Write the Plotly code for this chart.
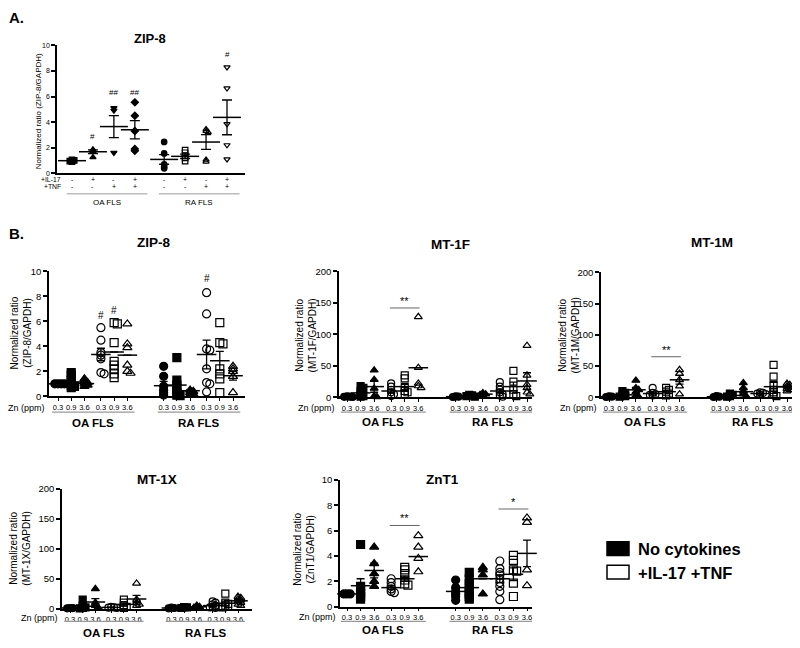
import plotly.graph_objects as go

W, H = 800, 648          # reference picture size
PAD = 8                  # browser body margin
FW, FH = W - PAD, H - PAD  # figure size so that it fits the window
FONT = "Liberation Sans, Arial, Helvetica, sans-serif"

# ======================= DATA =======================
# ---- Panel A : ZIP-8 (IL-17 / TNF stimulation) ----
a_il17 = ["-", "+", "-", "+", "-", "+", "-", "+"]
a_tnf = ["-", "-", "+", "+", "-", "-", "+", "+"]
a_cells = ["OA FLS", "RA FLS"]
a_values = [
    [1.05, 1.0, 0.95, 0.9],
    [1.85, 1.7, 1.25],
    [5.1, 4.9, 1.6],
    [5.55, 4.5, 3.3, 1.9, 1.75],
    [2.45, 1.55, 0.7, 0.5, 0.38],
    [1.8, 1.6, 1.35, 1.2, 0.95],
    [3.45, 3.3, 3.2, 1.05, 0.9],
    [8.3, 6.65, 3.85, 2.2, 1.1],
]
a_mean = [0.98, 1.68, 3.65, 3.4, 1.08, 1.32, 2.44, 4.37]
a_sem = [0.05, 0.15, 0.86, 0.72, 0.38, 0.17, 0.58, 1.36]
a_sig = ["", "#", "##", "##", "", "", "", "#"]
a_sig_y = [0, 2.9, 6.3, 6.3, 0, 0, 0, 9.3]

# ---- Panel B : Zn dose (0.3 / 0.9 / 3.6 ppm) ----
zn_levels = ["0.3", "0.9", "3.6"]
b_cells = ["OA FLS", "RA FLS"]
legend_labels = ["No cytokines", "+IL-17 +TNF"]

# group order: OA none(0.3,0.9,3.6), OA cyt(0.3,0.9,3.6), RA none(...), RA cyt(...)
zip8_values = [
    [1.0, 1.0, 1.0, 1.0],
    [1.9, 1.7, 1.3, 1.1, 0.9, 0.8, 0.7],
    [1.4, 1.2, 1.1, 1.0, 0.9, 0.8],
    [5.5, 4.5, 3.5, 3.3, 3.0, 1.9, 1.8],
    [5.9, 5.8, 4.3, 2.8, 2.5, 2.2, 1.8, 1.5],
    [5.8, 4.2, 3.9, 2.5, 2.0, 1.85],
    [2.4, 1.6, 0.8, 0.5, 0.3, 0.1],
    [3.1, 1.3, 0.9, 0.6, 0.3, 0.1, 0.05],
    [0.5, 0.4, 0.3, 0.2, 0.1],
    [8.3, 6.6, 3.8, 3.7, 2.2, 1.1, 1.0, 0.35],
    [5.9, 4.3, 4.2, 2.2, 1.8, 1.4, 0.3],
    [2.4, 2.2, 2.0, 1.6, 0.3],
]
zip8_mean = [1.0, 1.15, 1.02, 3.35, 3.55, 3.3, 0.85, 0.9, 0.45, 3.35, 2.85, 1.65]
zip8_sem = [0.03, 0.17, 0.1, 0.5, 0.0, 0.0, 0.35, 0.4, 0.06, 1.15, 0.75, 0.35]

mt1f_values = [
    [1.5, 1.0, 0.8, 0.5],
    [18, 15, 10, 5, 2, 1],
    [43, 28, 14, 2, 0.5],
    [22, 17, 12, 8, 5, 2],
    [35, 30, 15, 10, 8, 5],
    [128, 47, 22, 18, 15],
    [1.5, 1.0, 0.5],
    [4, 3, 2, 1],
    [7, 5, 4, 3],
    [24, 17, 12, 8, 5, 3, 1],
    [42, 25, 12, 5, 2],
    [82, 35, 20, 15, 8, 5],
]
mt1f_mean = [1.0, 7, 17, 10, 17, 47, 1.0, 2.5, 5, 10, 17, 26]
mt1f_sem = [0.2, 3, 9, 3, 5, 0, 0.3, 0.7, 1, 3, 7, 13]

mt1m_values = [
    [1.5, 1.0, 0.5],
    [10, 7, 4, 2, 1],
    [27, 15, 12, 8, 3, 1],
    [15, 7, 5, 4, 3],
    [15, 12, 9, 6, 3],
    [44, 38, 28, 18, 5],
    [2, 1, 0.5],
    [6, 4, 2, 1],
    [23, 15, 10, 5, 2],
    [8, 7, 6, 5, 4],
    [52, 33, 20, 12, 8, 4, 2],
    [22, 20, 18, 16, 14, 12, 10],
]
mt1m_mean = [1.0, 4, 12, 6, 9, 28, 1.0, 3, 9, 6, 17, 17]
mt1m_sem = [0.3, 2, 4, 2, 2, 7, 0.3, 1, 4, 0.7, 7, 2]

mt1x_values = [
    [1.0, 0.8, 0.5],
    [15, 5, 2, 1, 0.5],
    [33, 10, 5, 2],
    [3, 2, 1.5, 1],
    [15, 10, 6, 3, 1],
    [42, 15, 10, 7, 5],
    [1.5, 1.0, 0.5],
    [2.5, 2, 1],
    [5, 3, 2],
    [12, 10, 7, 5, 3, 2, 1],
    [25, 10, 8, 5, 3, 2],
    [20, 18, 16, 14, 12, 10, 7, 5],
]
mt1x_mean = [1.0, 4, 11, 2, 7, 16, 1.0, 2, 3, 5, 9, 13]
mt1x_sem = [0.2, 2.5, 5.5, 0.5, 2.5, 6, 0.2, 0.3, 0.8, 1.5, 3.5, 2]

znt1_values = [
    [1.0, 1.0, 1.0],
    [4.9, 1.6, 1.3, 1.0, 0.8, 0.6],
    [4.7, 3.4, 2.6, 2.0, 1.6],
    [2.2, 1.9, 1.6, 1.4, 1.2, 1.1],
    [3.1, 2.9, 2.6, 2.1, 1.8, 1.7],
    [5.6, 4.7, 3.8, 2.75],
    [2.1, 1.5, 1.2, 1.0, 0.8, 0.5],
    [2.7, 2.2, 1.8, 1.5, 1.2, 1.0, 0.8, 0.6],
    [3.1, 2.9, 2.5, 1.0],
    [3.6, 3.0, 2.7, 2.5, 2.2, 1.9, 1.6, 1.2, 0.55],
    [4.05, 3.65, 2.9, 2.8, 1.85, 0.8],
    [7.0, 6.65, 2.9, 1.65],
]
znt1_mean = [1.0, 1.65, 2.85, 1.5, 2.2, 3.95, 1.2, 1.5, 2.2, 2.2, 2.55, 4.2]
znt1_sem = [0.02, 0.55, 0.58, 0.15, 0.2, 0.0, 0.2, 0.2, 0.0, 0.3, 0.5, 1.05]

# significance marks
zip8_sig = [(3, "#", 6.5), (4, "#", 6.9), (9, "#", 9.45)]
mt1f_brackets = [(3, 5, 142, "**")]
mt1m_brackets = [(3, 5, 65, "**")]
mt1x_brackets = []
znt1_brackets = [(3, 5, 6.4, "**"), (9, 11, 7.7, "*")]

# ======================= STYLE / LAYOUT =======================
a_symbols = ["square", "triangle-up", "triangle-down", "diamond",
             "circle", "square-open", "triangle-up-open", "triangle-down-open"]
b_symbols = ["circle", "square", "triangle-up",
             "circle-open", "square-open", "triangle-up-open"] * 2


def fx(px):
    return (px - PAD) / FW


def fy(py):
    return 1 - (py - PAD) / FH


fig = go.Figure()
layout = dict(width=FW, height=FH, margin=dict(l=0, r=0, t=0, b=0),
              paper_bgcolor="white", plot_bgcolor="white", showlegend=False,
              font=dict(family=FONT, color="black"))
annotations = []
shapes = []


def ann(text, x, y, size, bold=False, xref="paper", yref="paper",
        xanchor="center", yanchor="middle", angle=0):
    if bold:
        text = "<b>" + text + "</b>"
    annotations.append(dict(text=text, x=x, y=y, xref=xref, yref=yref,
                            xanchor=xanchor, yanchor=yanchor, showarrow=False,
                            textangle=angle, borderpad=0,
                            font=dict(size=size, family=FONT, color="black")))


def swarm(vals, ppu_y, msize, ppu_x):
    """small horizontal offsets only for (nearly) coincident points"""
    placed, offs = [], []
    d = msize * 0.28
    for v in vals:
        ypx = v * ppu_y
        xo = 0
        for k in [0, 1, -1, 2, -2]:
            xo = k * msize * 0.4
            if all((xo - a) ** 2 + (ypx - b) ** 2 >= d ** 2 for a, b in placed):
                break
        placed.append((xo, ypx))
        offs.append(xo / ppu_x)
    return offs


def panel(n, cfg, values, means, sems, positions, symbols, msize, mean_w, cap_w,
          ticktext, xtickfont, ytickvals, ytickfont, xticks):
    ax = "" if n == 1 else str(n)
    xn, yn = "x" + ax, "y" + ax
    ppu_x = (cfg["last"] - cfg["first"]) / positions[-1]
    xr = [(cfg["ax0"] - cfg["first"]) / ppu_x, (cfg["ax1"] - cfg["first"]) / ppu_x]
    ppu_y = (cfg["ybot"] - cfg["ytop"]) / cfg["ymax"]
    layout["xaxis" + ax] = dict(
        domain=[fx(cfg["ax0"]), fx(cfg["ax1"])], range=xr, anchor=yn,
        showline=True, linecolor="black", linewidth=1.5, showgrid=False,
        zeroline=False, tickvals=positions, ticktext=ticktext,
        ticks="outside" if xticks else "", ticklen=3, tickwidth=1.2,
        tickcolor="black", tickfont=dict(size=xtickfont, family=FONT, color="black"),
        fixedrange=True)
    layout["yaxis" + ax] = dict(
        domain=[fy(cfg["ybot"]), fy(cfg["ytop"])], range=[0, cfg["ymax"]],
        anchor=xn, showline=True, linecolor="black", linewidth=1.5,
        showgrid=False, zeroline=False, tickvals=ytickvals, ticks="outside",
        ticklen=4, tickwidth=1.5, tickcolor="black",
        tickfont=dict(size=ytickfont, family=FONT, color="black"), fixedrange=True)
    xs, ys, syms = [], [], []
    for g, vals in enumerate(values):
        offs = swarm(vals, ppu_y, msize, ppu_x)
        for v, o in zip(vals, offs):
            xs.append(positions[g] + o)
            ys.append(v)
            syms.append(symbols[g])
    fig.add_trace(go.Scatter(
        x=xs, y=ys, mode="markers", xaxis=xn, yaxis=yn, cliponaxis=False,
        marker=dict(symbol=syms, size=msize, color="black",
                    line=dict(color="black", width=1.2)), hoverinfo="skip"))
    fig.add_trace(go.Scatter(
        x=positions, y=means, mode="markers", xaxis=xn, yaxis=yn, cliponaxis=False,
        marker=dict(symbol="line-ew", size=mean_w, color="black",
                    line=dict(color="black", width=1.5)),
        error_y=dict(type="data", array=sems, visible=True, color="black",
                     thickness=1.3, width=cap_w), hoverinfo="skip"))
    return xn, yn


# ---------------- Panel A ----------------
a_pos = [i + 0.4 * (i >= 4) for i in range(len(a_values))]
cfgA = dict(ax0=57, ax1=245, first=72, last=227, ytop=40, ybot=170, ymax=10)
xa, ya = panel(1, cfgA, a_values, a_mean, a_sem, a_pos, a_symbols, 5.5, 20, 5,
               [""] * 8, 7, [0, 2, 4, 6, 8, 10], 7, False)
ann("A.", fx(8), fy(12), 15, bold=True, xanchor="left")
ann("ZIP-8", fx(150), fy(33), 13, bold=True)
ann("Normalized ratio (ZIP-8/GAPDH)", fx(38), fy(107), 8, angle=-90)
ann("+IL-17", fx(62), fy(176.5), 6.8, xanchor="right")
ann("+TNF", fx(62), fy(184), 6.8, xanchor="right")
for i in range(8):
    ann(a_il17[i], a_pos[i], fy(176.5), 7, xref=xa)
    ann(a_tnf[i], a_pos[i], fy(184), 7, xref=xa)
    if a_sig[i]:
        ann(a_sig[i], a_pos[i], a_sig_y[i], 8, xref=xa, yref=ya)
for k, cell in enumerate(a_cells):
    lo, hi = a_pos[4 * k] - 0.25, a_pos[4 * k + 3] + 0.6
    shapes.append(dict(type="line", xref=xa, yref="paper", x0=lo, x1=hi,
                       y0=fy(191), y1=fy(191), line=dict(color="#999999", width=1)))
    ann(cell, (lo + hi) / 2, fy(200), 8, xref=xa)

# ---------------- Panel B ----------------
b_pos = [(i // 6) * 8 + ((i % 6) // 3) * 3.25 + (i % 3) for i in range(12)]
b_ticktext = zn_levels * 4
ann("B.", fx(8), fy(231), 15, bold=True, xanchor="left")

b_panels = [
    ("ZIP-8", dict(ax0=49, ax1=245, first=58, last=233, ytop=270, ybot=397, ymax=10),
     zip8_values, zip8_mean, zip8_sem, [0, 2, 4, 6, 8, 10], 8,
     (153, 240), (21, 333), 409, 413, 424),
    ("MT-1F", dict(ax0=339, ax1=532, first=347, last=527, ytop=270, ybot=398, ymax=200),
     mt1f_values, mt1f_mean, mt1f_sem, [0, 50, 100, 150, 200], 7,
     (450, 243), (306, 335), 409, 413, 423),
    ("MT-1M", dict(ax0=601, ax1=797, first=609, last=787, ytop=271, ybot=398, ymax=200),
     mt1m_values, mt1m_mean, mt1m_sem, [0, 50, 100, 150, 200], 7,
     (712, 240), (569, 335), 409, 413, 423),
    ("MT-1X", dict(ax0=62, ax1=252, first=70, last=238, ytop=491, ybot=613, ymax=200),
     mt1x_values, mt1x_mean, mt1x_sem, [0, 50, 100, 150, 200], 7,
     (157, 482), (20, 552), 623, 626, 638),
    ("ZnT1", dict(ax0=340, ax1=532, first=347, last=527, ytop=482, ybot=611, ymax=10),
     znt1_values, znt1_mean, znt1_sem, [0, 2, 4, 6, 8, 10], 8,
     (443, 482), (304, 553), 622, 626, 635),
]
b_brackets = [[], mt1f_brackets, mt1m_brackets, mt1x_brackets, znt1_brackets]

for j, (title, cfg, vals, mn, se, yt, ms, tpos, ytpos, lab_y, ul_y, cell_y) in enumerate(b_panels):
    xn, yn = panel(j + 2, cfg, vals, mn, se, b_pos, b_symbols, ms, 14, 4,
                   b_ticktext, 7.5, yt, 9.5, True)
    ann(title, fx(tpos[0]), fy(tpos[1]), 13.5, bold=True)
    ann("Normalized ratio<br>(" + title + "/GAPDH)", fx(ytpos[0]), fy(ytpos[1]), 10, angle=-90)
    ann("Zn (ppm)", fx(cfg["ax0"] - 3), fy(lab_y), 9, xanchor="right")
    for k, cell in enumerate(b_cells):
        lo, hi = b_pos[6 * k] - 0.45, b_pos[6 * k + 5] + 0.55
        shapes.append(dict(type="line", xref=xn, yref="paper", x0=lo, x1=hi,
                           y0=fy(ul_y), y1=fy(ul_y), line=dict(color="#999999", width=1.2)))
        ann(cell, (lo + hi) / 2, fy(cell_y), 11.5, bold=True, xref=xn)
    for g0, g1, yv, txt in b_brackets[j]:
        shapes.append(dict(type="line", xref=xn, yref=yn, x0=b_pos[g0] - 0.1,
                           x1=b_pos[g1] + 0.1, y0=yv, y1=yv,
                           line=dict(color="#666666", width=1)))
        ann(txt, (b_pos[g0] + b_pos[g1]) / 2, yv, 11, xref=xn, yref=yn, yanchor="bottom")

for g, txt, yv in zip8_sig:
    ann(txt, b_pos[g], yv, 10, xref="x2", yref="y2")

# ---------------- Legend ----------------
shapes.append(dict(type="rect", xref="paper", yref="paper", x0=fx(607), x1=fx(629),
                   y0=fy(559), y1=fy(545), fillcolor="black", line=dict(color="black", width=1.5)))
shapes.append(dict(type="rect", xref="paper", yref="paper", x0=fx(607), x1=fx(629),
                   y0=fy(583), y1=fy(569), fillcolor="white", line=dict(color="black", width=1.5)))
ann(legend_labels[0], fx(637), fy(552), 16.5, bold=True, xanchor="left")
ann(legend_labels[1], fx(637), fy(577), 16.5, bold=True, xanchor="left")

layout["annotations"] = annotations
layout["shapes"] = shapes
fig.update_layout(**layout)
fig.write_html("out.html")
